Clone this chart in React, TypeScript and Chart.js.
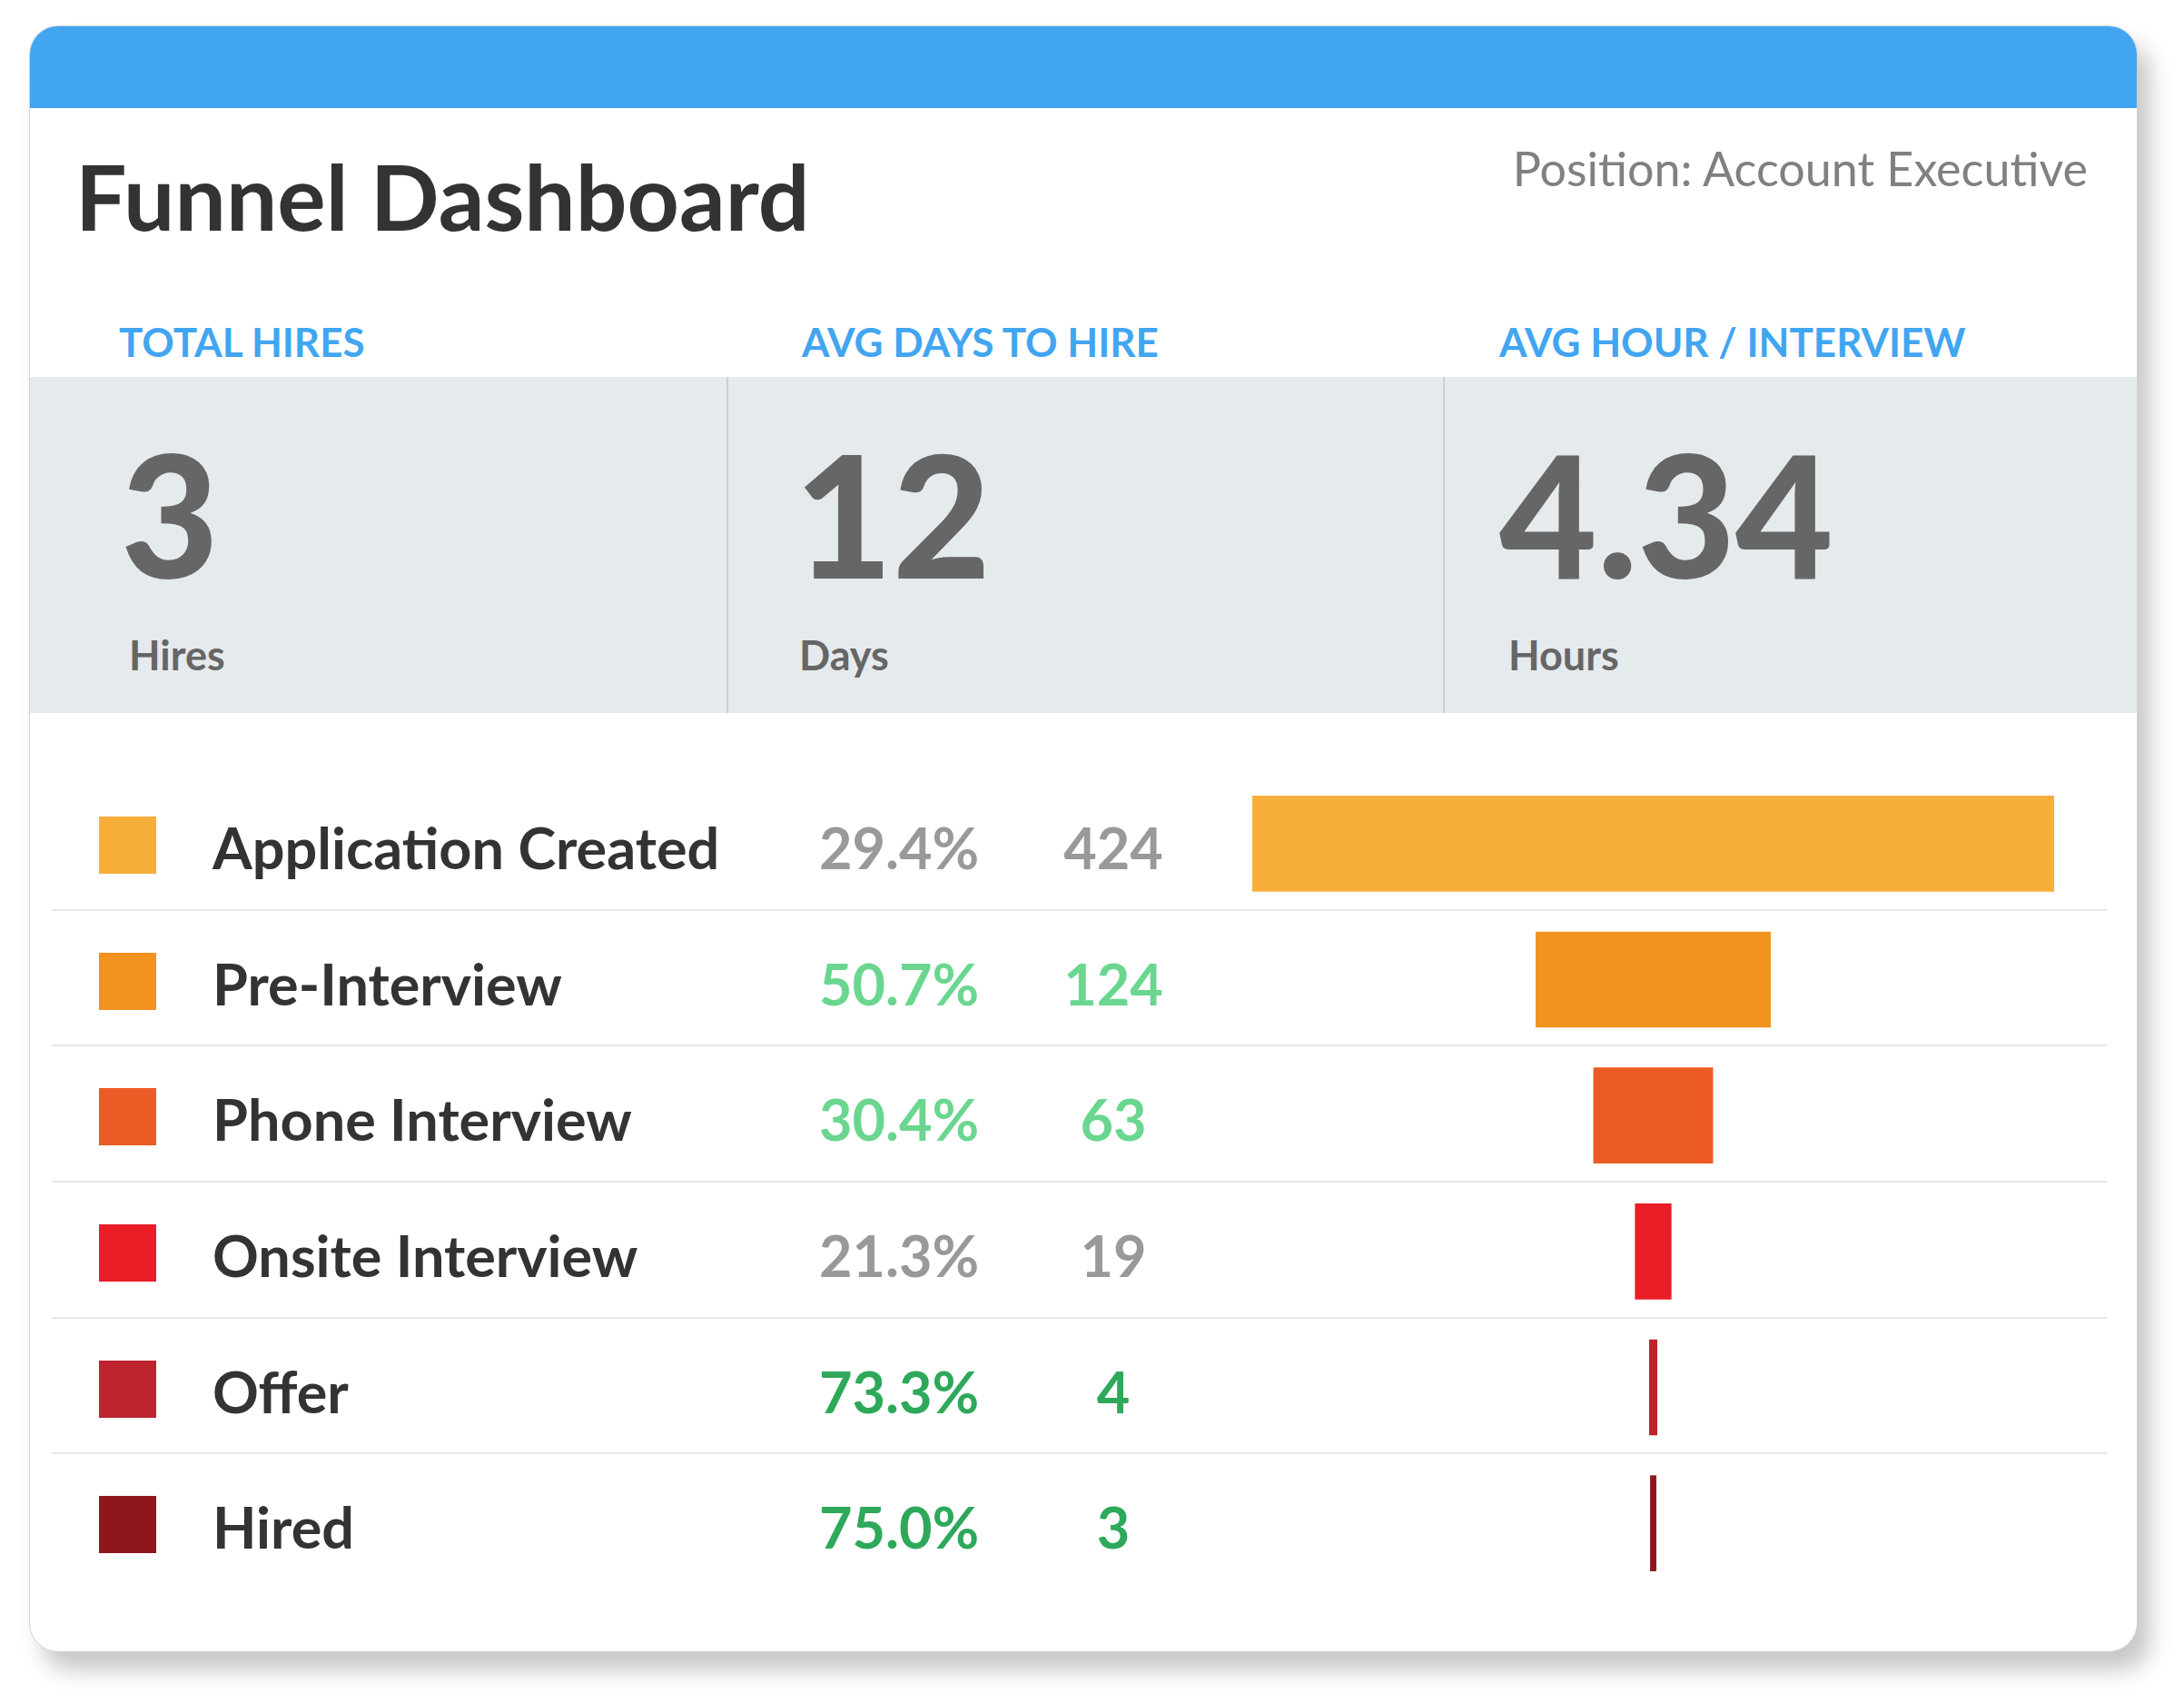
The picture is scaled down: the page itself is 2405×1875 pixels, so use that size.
import React, { useEffect, useRef } from "react";
import { Chart, registerables } from "chart.js";

Chart.register(...registerables);

// ---- data ----
const stages = ["Application Created", "Pre-Interview", "Phone Interview", "Onsite Interview", "Offer", "Hired"];
const counts = [424, 124, 63, 19, 4, 3];
const conversion = ["29.4%", "50.7%", "30.4%", "21.3%", "73.3%", "75.0%"];

const kpiTitles = ["TOTAL HIRES", "AVG DAYS TO HIRE", "AVG HOUR / INTERVIEW"];
const kpiValues = ["3", "12", "4.34"];
const kpiUnits = ["Hires", "Days", "Hours"];

const dashboardTitle = "Funnel Dashboard";
const positionLabel = "Position: Account Executive";

// ---- styles ----
const stageColors = ["#f7ae3b", "#f2921f", "#ec5a25", "#e91e27", "#bd242e", "#90161e"];
const pctColors = ["#999999", "#6ad68f", "#6ad68f", "#999999", "#2ea85a", "#2ea85a"];

const FONT = "Lato, 'Open Sans', sans-serif";
const BLUE = "#42a5f0";

const tablePlugin = {
  id: "funnelTable",
  beforeDatasetsDraw(chart: any) {
    const ctx = chart.ctx as CanvasRenderingContext2D;
    const y = chart.scales.y;
    const n = stages.length;
    const rowH = (y.bottom - y.top) / n;
    ctx.save();
    ctx.strokeStyle = "#e6e6e6";
    ctx.lineWidth = 2;
    for (let i = 0; i < n - 1; i++) {
      const yy = Math.round(y.getPixelForValue(i) + rowH / 2) - 2;
      ctx.beginPath();
      ctx.moveTo(57, yy);
      ctx.lineTo(2320, yy);
      ctx.stroke();
    }
    for (let i = 0; i < n; i++) {
      const cy = y.getPixelForValue(i);
      ctx.fillStyle = stageColors[i];
      ctx.fillRect(109, Math.round(cy - 30), 63, 63);
      ctx.textBaseline = "alphabetic";
      ctx.font = `700 63px ${FONT}`;
      ctx.fillStyle = "#333333";
      ctx.textAlign = "left";
      ctx.fillText(stages[i], 234, cy + 28);
      ctx.font = `700 63px ${FONT}`;
      ctx.fillStyle = pctColors[i];
      ctx.textAlign = "center";
      ctx.fillText(conversion[i], 990, cy + 28);
      ctx.fillText(String(counts[i]), 1226, cy + 28);
    }
    ctx.restore();
  },
};

function FunnelChart() {
  const ref = useRef<HTMLCanvasElement | null>(null);
  useEffect(() => {
    if (!ref.current) return;
    const half = Math.max(...counts) / 2;
    const chart = new Chart(ref.current, {
      type: "bar",
      data: {
        labels: stages,
        datasets: [
          {
            data: counts.map((v) => [-v / 2, v / 2]) as any,
            backgroundColor: stageColors,
            borderWidth: 0,
            barThickness: 105,
          },
        ],
      },
      options: {
        indexAxis: "y",
        responsive: false,
        animation: false,
        layout: { padding: { left: 1379, right: 143, top: 0, bottom: 0 } },
        scales: {
          x: { type: "linear", min: -half, max: half, display: false },
          y: { display: false },
        },
        plugins: { legend: { display: false }, tooltip: { enabled: false } },
      },
      plugins: [tablePlugin],
    });
    return () => chart.destroy();
  }, []);
  return (
    <canvas
      ref={ref}
      width={2405}
      height={898}
      style={{ position: "absolute", left: 0, top: 854, width: 2405, height: 898 }}
    />
  );
}

const abs = (o: React.CSSProperties): React.CSSProperties => ({ position: "absolute", whiteSpace: "nowrap", lineHeight: 1, fontFamily: FONT, ...o });

export default function App() {
  const titleLefts = [131, 883, 1651];
  const valueLefts = [133, 875, 1651];
  const unitLefts = [142, 880, 1661];
  return (
    <div style={{ position: "absolute", left: 0, top: 0, width: 2405, height: 1875, background: "#ffffff", overflow: "hidden" }}>
      <div
        style={{
          position: "absolute",
          left: 32,
          top: 28,
          width: 2322,
          height: 1791,
          borderRadius: 32,
          background: "#ffffff",
          boxShadow: "14px 20px 24px rgba(0,0,0,0.22)",
          border: "1px solid #d2d2d2",
          boxSizing: "border-box",
          overflow: "hidden",
        }}
      >
        <div style={{ position: "absolute", left: 0, top: 0, right: 0, height: 90, background: BLUE }} />
        <div style={{ position: "absolute", left: 0, top: 386, right: 0, height: 370, background: "#e5eaed" }} />
        <div style={{ position: "absolute", left: 767, top: 386, width: 2, height: 370, background: "#cbd0d3" }} />
        <div style={{ position: "absolute", left: 1556, top: 386, width: 2, height: 370, background: "#cbd0d3" }} />
      </div>

      <div style={abs({ left: 83, top: 165, fontSize: 100, fontWeight: 700, color: "#333333" })}>{dashboardTitle}</div>
      <div style={abs({ right: 106, top: 159, fontSize: 52, fontWeight: 400, color: "#808080" })}>{positionLabel}</div>

      {kpiTitles.map((t, i) => (
        <div key={"t" + i} style={abs({ left: titleLefts[i], top: 354, fontSize: 44, fontWeight: 700, color: BLUE })}>{t}</div>
      ))}
      {kpiValues.map((v, i) => (
        <div key={"v" + i} style={abs({ left: valueLefts[i], top: 472, fontSize: 186, fontWeight: 900, color: "#666666" })}>{v}</div>
      ))}
      {kpiUnits.map((u, i) => (
        <div key={"u" + i} style={abs({ left: unitLefts[i], top: 699, fontSize: 45, fontWeight: 700, color: "#666666" })}>{u}</div>
      ))}

      <FunnelChart />
    </div>
  );
}
